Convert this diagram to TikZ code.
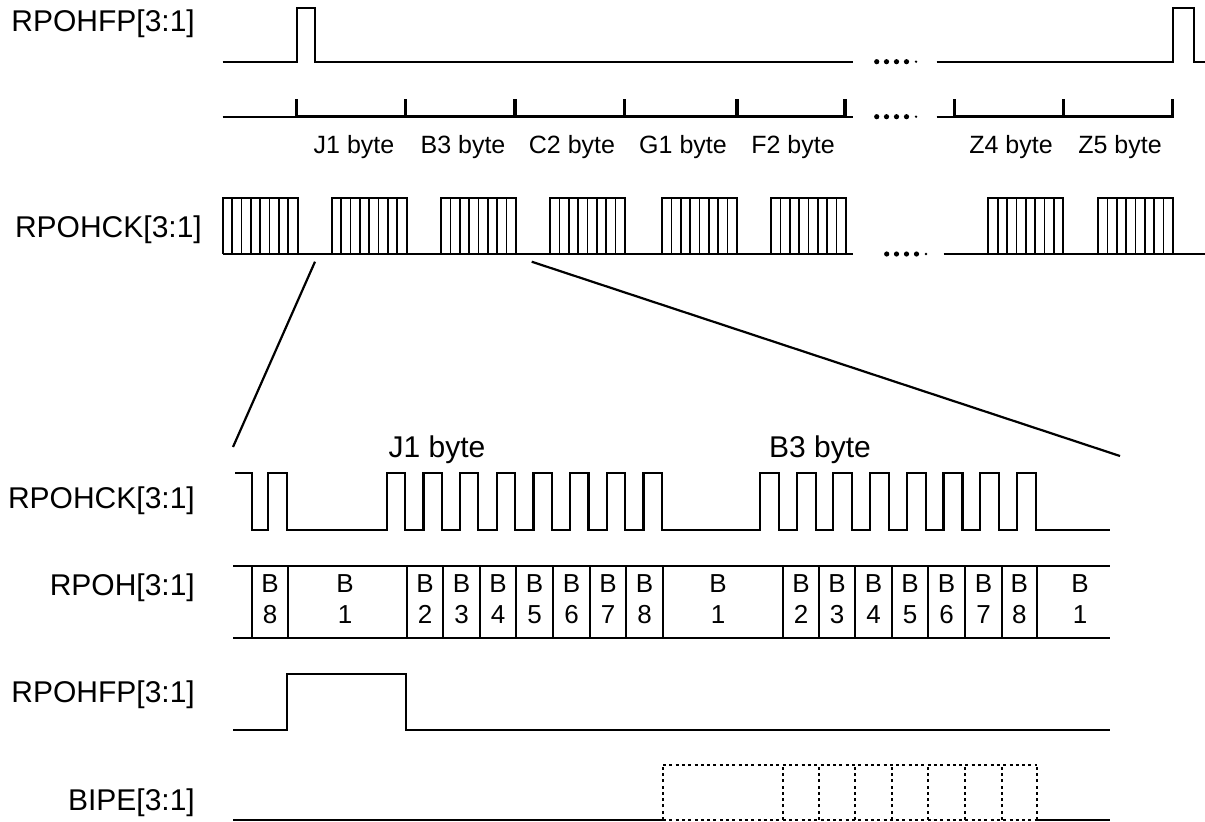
\documentclass[tikz,border=0pt]{standalone}
\usepackage{fontspec}
\setmainfont{Liberation Sans}
\begin{document}
\begin{tikzpicture}[x=1pt,y=-1pt,
  wave/.style={line width=2.3pt,line join=miter},
  ruler/.style={line width=3.4pt},
  thinrule/.style={line width=2.3pt},
  clkv/.style={line width=1.7pt},
  zoomline/.style={line width=2.2pt},
  dotbox/.style={line width=2.3pt,dash pattern=on 3pt off 3.3pt},
  siglabel/.style={anchor=base east,inner sep=0pt,font=\fontsize{30}{36}\selectfont},
  bytelabel/.style={anchor=base,inner sep=0pt,font=\fontsize{25}{30}\selectfont},
  bigbyte/.style={anchor=base,inner sep=0pt,font=\fontsize{30}{36}\selectfont},
  celltxt/.style={align=center,inner sep=0pt,font=\fontsize{26}{31}\selectfont}]
\useasboundingbox (0,0) rectangle (1205,822);

% ---------- signal names ----------
\node[siglabel] (l1) at (195,31) {RPOHFP[3:1]};
\node[siglabel] (l2) at (202,237) {RPOHCK[3:1]};
\node[siglabel] (l3) at (195,508) {RPOHCK[3:1]};
\node[siglabel] (l4) at (195,595) {RPOH[3:1]};
\node[siglabel] (l5) at (195,702) {RPOHFP[3:1]};
\node[siglabel] (l6) at (195,810) {BIPE[3:1]};

% ---------- top RPOHFP ----------
\draw[wave] (222.7,61.7) -- (296.7,61.7) -- (296.7,8.3) -- (315,8.3) -- (315,61.7) -- (853,61.7);
\draw[wave] (936.7,61.7) -- (1172.7,61.7) -- (1172.7,8.3) -- (1194.3,8.3) -- (1194.3,61.7) -- (1205,61.7);

% ---------- byte ruler ----------
\draw[thinrule] (222.7,116.7) -- (296.7,116.7);
\draw[ruler] (296.7,116.7) -- (846.7,116.7);
\draw[thinrule] (846.7,116.7) -- (853,116.7);
\draw[thinrule] (936.7,116.7) -- (954.3,116.7);
\draw[ruler] (954.3,116.7) -- (1172.7,116.7);
\foreach \t in {296.7,405.7,515,624.3,737,845,954.3,1063.3,1172.7}
  \draw[ruler] (\t,99.3) -- (\t,118.3);

\node[bytelabel] (b1) at (354,153) {J1 byte};
\node[bytelabel] (b2) at (463,153) {B3 byte};
\node[bytelabel] (b3) at (572,153) {C2 byte};
\node[bytelabel] (b4) at (683,153) {G1 byte};
\node[bytelabel] (b5) at (793,153) {F2 byte};
\node[bytelabel] (b6) at (1011,153) {Z4 byte};
\node[bytelabel] (b7) at (1120,153) {Z5 byte};

% ---------- ellipsis dots ----------
\foreach \yy/\dx in {61.7/0,116.7/0,254/10} {
  \foreach \xx in {876.7,886.5,896.5,906.5}
    \fill ({\xx+\dx},\yy) circle[radius=2.6];
  \fill ({916+\dx},\yy) circle[radius=1.3];
}

% ---------- top RPOHCK (compressed clock) ----------
\draw[wave] (222.7,254) -- (853,254);
\draw[wave] (943.6,254) -- (1205,254);
\foreach \e in {297.7,406.7,516,625,737,846,1063.3,1173} {
  \draw[wave] ({\e-75},254) -- ({\e-75},198.3) -- (\e,198.3) -- (\e,254);
  \foreach \i in {1,...,7}
    \draw[clkv] ({\e-75+\i*75/8},198.3) -- ({\e-75+\i*75/8},254);
}

% ---------- zoom lines ----------
\coordinate (z1a) at (315,261.7);
\coordinate (z1b) at (233,447);
\coordinate (z2a) at (531.7,261.7);
\coordinate (z2b) at (1120,456);
\draw[zoomline] (z1a) -- (z1b);
\draw[zoomline] (z2a) -- (z2b);

\node[bigbyte] (j1) at (437,457) {J1 byte};
\node[bigbyte] (b3b) at (820,457) {B3 byte};

% ---------- lower RPOHCK ----------
\draw[wave] (235,473.3) -| (251.7,530) -| (268.3,473.3) -| (286.7,530)
  \foreach \k in {0,...,7} { -- ({386.7+36.67*\k},530) -- ({386.7+36.67*\k},473.3) -- ({405+36.67*\k},473.3) -- ({405+36.67*\k},530) }
  \foreach \k in {0,...,7} { -- ({760+36.67*\k},530) -- ({760+36.67*\k},473.3) -- ({779+36.67*\k},473.3) -- ({779+36.67*\k},530) }
  -- (1110,530);

% ---------- RPOH data cells ----------
\draw[wave] (233,566) -- (1110,566);
\draw[wave] (233,638) -- (1110,638);
\foreach \b in {252,288,407,443,480,516,553,590,626,663,783,819,855,892,928,965,1002,1036.7}
  \draw[wave] (\b,566) -- (\b,638);
\node[celltxt] (c1) at (270,599) {B\\8};
\node[celltxt] (c2) at (345,599) {B\\1};
\node[celltxt] (c3) at (425,599) {B\\2};
\node[celltxt] (c4) at (461.5,599) {B\\3};
\node[celltxt] (c5) at (498,599) {B\\4};
\node[celltxt] (c6) at (534.5,599) {B\\5};
\node[celltxt] (c7) at (571.5,599) {B\\6};
\node[celltxt] (c8) at (608,599) {B\\7};
\node[celltxt] (c9) at (644.5,599) {B\\8};
\node[celltxt] (c10) at (718,599) {B\\1};
\node[celltxt] (c11) at (801,599) {B\\2};
\node[celltxt] (c12) at (837,599) {B\\3};
\node[celltxt] (c13) at (873.5,599) {B\\4};
\node[celltxt] (c14) at (910,599) {B\\5};
\node[celltxt] (c15) at (946.5,599) {B\\6};
\node[celltxt] (c16) at (983.5,599) {B\\7};
\node[celltxt] (c17) at (1019.3,599) {B\\8};
\node[celltxt] (c18) at (1080,599) {B\\1};

% ---------- lower RPOHFP ----------
\draw[wave] (233,730) -- (286.7,730) -- (286.7,674) -- (405.7,674) -- (405.7,730) -- (1110,730);

% ---------- BIPE ----------
\draw[wave] (233,820) -- (663,820);
\draw[wave] (1036.7,820) -- (1110,820);
\draw[dotbox] (663,820) -- (1036.7,820);
\draw[dotbox] (663,765) -- (1036.7,765);
\foreach \b in {663,783,819,855,892,928,965,1002,1036.7}
  \draw[dotbox] (\b,820) -- (\b,765);
\end{tikzpicture}
\end{document}
